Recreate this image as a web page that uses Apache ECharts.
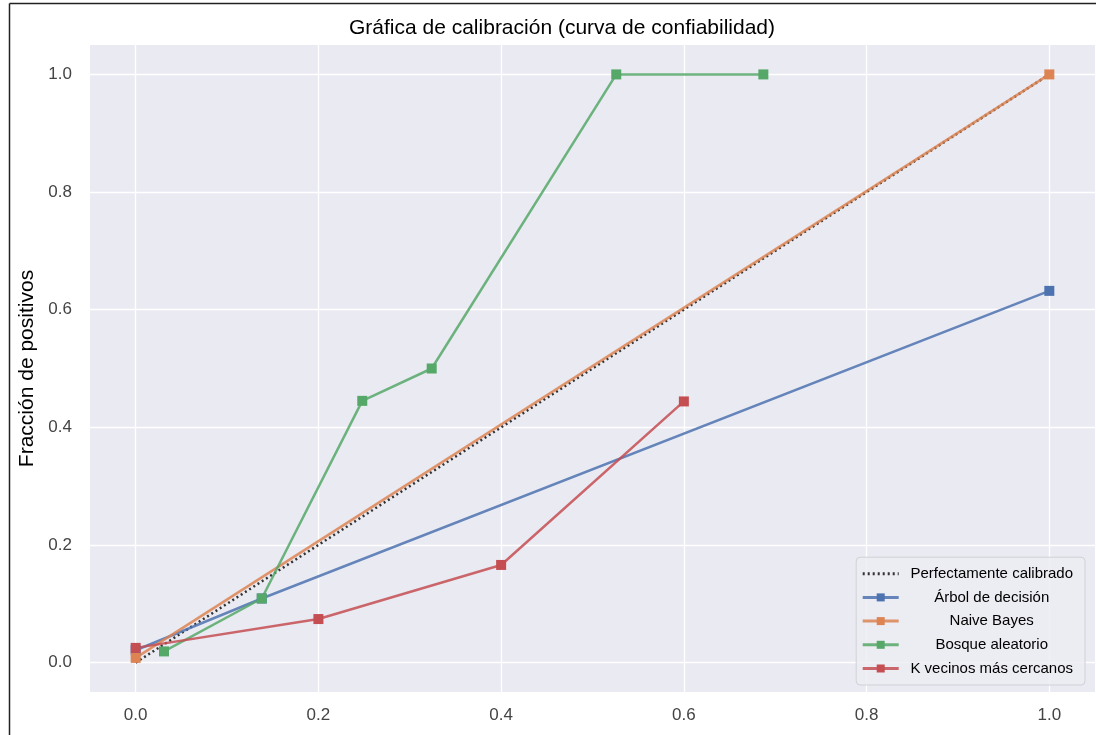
<!DOCTYPE html>
<html>
<head>
<meta charset="utf-8">
<script src="https://cdn.jsdelivr.net/npm/echarts@6/dist/echarts.min.js"></script>
<style>
html,body{margin:0;padding:0;background:#fff;}
#c{width:1096px;height:735px;}
</style>
</head>
<body>
<div id="c"></div>
<script>
const titleText = 'Gráfica de calibración (curva de confiabilidad)';
const yAxisName = 'Fracción de positivos';
const tickValues = [0, 0.2, 0.4, 0.6, 0.8, 1.0];

const perfectName = 'Perfectamente calibrado';
const perfectData = [[0, 0], [1, 1]];

const treeName = 'Árbol de decisión';
const treeData = [[0, 0.021], [0.138, 0.109], [1.0, 0.632]];

const nbName = 'Naive Bayes';
const nbData = [[0, 0.008], [1.0, 1.0]];

const rfName = 'Bosque aleatorio';
const rfData = [[0.031, 0.019], [0.138, 0.109], [0.248, 0.445], [0.324, 0.5], [0.526, 1.0], [0.687, 1.0]];

const knnName = 'K vecinos más cercanos';
const knnData = [[0, 0.025], [0.2, 0.074], [0.4, 0.166], [0.6, 0.444]];

const colors = ['#4C72B0', '#DD8452', '#55A868', '#C44E52'];
const FONT = '"Liberation Sans", Arial, sans-serif';

function lineSeries(name, data, color) {
  return {
    name: name, type: 'line', data: data,
    symbol: 'rect', symbolSize: 10, showSymbol: true,
    lineStyle: { color: color, width: 2.5, opacity: 0.85 },
    itemStyle: { color: color },
    emphasis: { disabled: true },
    animation: false
  };
}

const chart = echarts.init(document.getElementById('c'), null, { renderer: 'canvas' });
const axisCommon = {
  type: 'value', min: -0.05, max: 1.05,
  axisLine: { show: false }, axisTick: { show: false },
  axisLabel: { customValues: tickValues, color: '#444', fontSize: 17, fontFamily: FONT, formatter: v => v.toFixed(1) },
  splitLine: { show: false }
};
// grid lines drawn as markLines at tick values
const gridLines = [];
tickValues.forEach(v => { gridLines.push({ xAxis: v }); gridLines.push({ yAxis: v }); });

chart.setOption({
  backgroundColor: '#fff',
  animation: false,
  title: {
    text: titleText, left: 557, top: 13, textAlign: 'center',
    textStyle: { fontFamily: FONT, fontSize: 21, fontWeight: 'normal', color: '#000' }
  },
  grid: { left: 90, right: 1, top: 45, bottom: 43, show: true, backgroundColor: '#EAEAF2', borderWidth: 0 },
  xAxis: Object.assign({}, axisCommon, { axisLabel: Object.assign({}, axisCommon.axisLabel, { margin: 15 }) }),
  yAxis: Object.assign({}, axisCommon, {
    name: yAxisName, nameLocation: 'middle', nameGap: 52,
    nameTextStyle: { fontFamily: FONT, fontSize: 21, color: '#000' },
    axisLabel: Object.assign({}, axisCommon.axisLabel, { margin: 18 })
  }),
  legend: {
    orient: 'vertical', right: 11, bottom: 50,
    backgroundColor: 'rgba(236,236,243,0.85)', borderColor: '#d0d0d6', borderWidth: 1, borderRadius: 4,
    padding: [9, 12, 9, 5], itemGap: 8.7, itemWidth: 36, itemHeight: 10,
    lineStyle: { width: 3 },
    data: [perfectName, treeName, nbName, rfName, knnName],
    formatter: n => '{a|' + n + '}',
    textStyle: { fontFamily: FONT, fontSize: 15, color: '#000',
      rich: { a: { width: 176, align: 'center', fontFamily: FONT, fontSize: 15, color: '#000' } } }
  },
  series: [
    {
      name: perfectName, type: 'line', data: perfectData, symbol: 'rect', showSymbol: false, symbolSize: 0,
      lineStyle: { color: '#333', width: 2.5, type: [2, 3] },
      itemStyle: { color: 'rgba(0,0,0,0)' },
      emphasis: { disabled: true }, z: 1,
      markLine: {
        silent: true, symbol: 'none', label: { show: false },
        lineStyle: { color: '#fff', width: 1.3, type: 'solid' },
        data: gridLines, z: 0, animation: false
      }
    },
    lineSeries(treeName, treeData, colors[0]),
    lineSeries(nbName, nbData, colors[1]),
    lineSeries(rfName, rfData, colors[2]),
    lineSeries(knnName, knnData, colors[3])
  ],
  graphic: [
    { type: 'line', shape: { x1: 9.5, y1: 3.5, x2: 9.5, y2: 735 }, style: { stroke: '#222', lineWidth: 1.5 } },
    { type: 'line', shape: { x1: 9.5, y1: 3.5, x2: 1096, y2: 3.5 }, style: { stroke: '#222', lineWidth: 1.5 } }
  ]
});
</script>
</body>
</html>
